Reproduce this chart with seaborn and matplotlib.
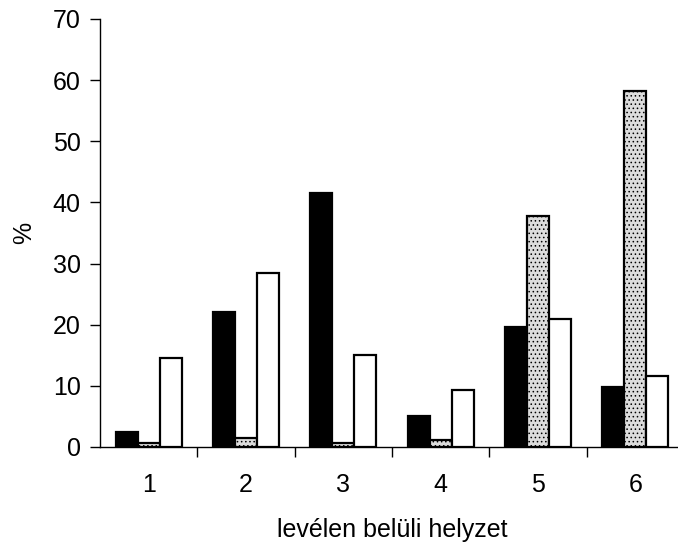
import matplotlib
matplotlib.use("Agg")
import matplotlib.pyplot as plt
import seaborn as sns
import pandas as pd

# ----------------------------
# Data
# ----------------------------
positions = ["1", "2", "3", "4", "5", "6"]
series_names = ["A", "B", "C"]
black_vals = [2.5, 22.0, 41.5, 5.0, 19.6, 9.8]
dotted_vals = [0.6, 1.5, 0.6, 1.2, 37.8, 58.2]
white_vals = [14.5, 28.4, 15.1, 9.3, 21.0, 11.6]

df = pd.DataFrame({
    "pos": positions * 3,
    "series": [s for s in series_names for _ in positions],
    "value": black_vals + dotted_vals + white_vals,
})

# ----------------------------
# Style
# ----------------------------
sns.set_style("white")
plt.rcParams["font.family"] = ["Liberation Sans", "DejaVu Sans"]
plt.rcParams["text.color"] = "black"
plt.rcParams["axes.labelcolor"] = "black"
plt.rcParams["xtick.color"] = "black"
plt.rcParams["ytick.color"] = "black"
plt.rcParams["hatch.linewidth"] = 0.6

fig = plt.figure(figsize=(6.78, 5.43), dpi=100)
ax = fig.add_axes([100 / 678, 1 - 447 / 543, 584 / 678, 428 / 543])

sns.barplot(data=df, x="pos", y="value", hue="series", order=positions,
            hue_order=series_names, palette=["black", "#dcdcdc", "white"],
            width=0.68, edgecolor="black", linewidth=1.6, legend=False, ax=ax)

# dotted pattern for the middle series
for bar in ax.containers[1]:
    bar.set_hatch("....")

ax.set_xlim(-0.5, 5.5)
ax.set_ylim(0, 70)
ax.set_yticks(range(0, 71, 10))

# ticks between categories, labels at centres
ax.set_xticks([i + 0.5 for i in range(6)], minor=True)
ax.tick_params(axis="x", which="major", length=0, pad=19, labelsize=18)
ax.tick_params(axis="x", which="minor", length=7, width=1, direction="out")
ax.tick_params(axis="y", length=7, width=1, direction="out", labelsize=18, pad=7)
ax.xaxis.set_ticks_position("bottom")
ax.yaxis.set_ticks_position("left")

sns.despine(ax=ax)
for side in ["left", "bottom"]:
    ax.spines[side].set_color("black")
    ax.spines[side].set_linewidth(1)

ax.set_xlabel("levélen belüli helyzet", fontsize=18, labelpad=15)
ax.set_ylabel("%", fontsize=18, labelpad=12)

fig.savefig("out.png", dpi=100)
